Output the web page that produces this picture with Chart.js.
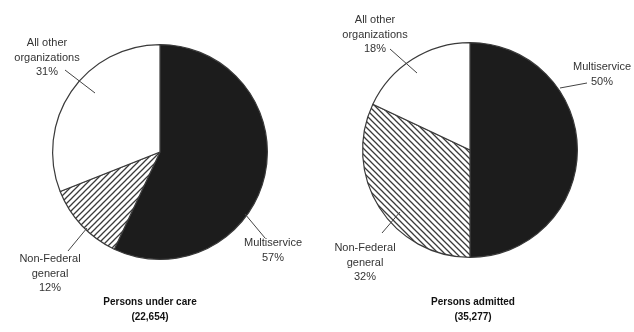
<!DOCTYPE html>
<html>
<head>
<meta charset="utf-8">
<script src="https://cdn.jsdelivr.net/npm/chart.js@4/dist/chart.umd.min.js"></script>
<style>
  html,body{margin:0;padding:0;background:#fff;}
  #wrap{position:relative;width:634px;height:332px;overflow:hidden;}
  canvas{position:absolute;top:0;}
</style>
</head>
<body>
<div id="wrap">
  <canvas id="c1" width="317" height="332" style="left:0"></canvas>
  <canvas id="c2" width="317" height="332" style="left:317px"></canvas>
</div>
<script>
// ---- data ----
const categories = ['Multiservice', 'Non-Federal general', 'All other organizations'];
const labelLines = [['Multiservice'], ['Non-Federal', 'general'], ['All other', 'organizations']];
const underCareValues = [57, 12, 31];
const admittedValues = [50, 32, 18];
const chartTitles = ['Persons under care', 'Persons admitted'];
const chartTotals = ['(22,654)', '(35,277)'];

// ---- styles ----
function hatch(dir) {
  const s = 6;
  const c = document.createElement('canvas');
  c.width = s; c.height = s;
  const g = c.getContext('2d');
  g.fillStyle = '#fff'; g.fillRect(0, 0, s, s);
  g.strokeStyle = '#3a3a3a'; g.lineWidth = 1.3;
  g.beginPath();
  if (dir === '/') {
    g.moveTo(-1, s + 1); g.lineTo(s + 1, -1);
    g.moveTo(-1, 1); g.lineTo(1, -1);
    g.moveTo(s - 1, s + 1); g.lineTo(s + 1, s - 1);
  } else {
    g.moveTo(-1, -1); g.lineTo(s + 1, s + 1);
    g.moveTo(s - 1, -1); g.lineTo(s + 1, 1);
    g.moveTo(-1, s - 1); g.lineTo(1, s + 1);
  }
  g.stroke();
  return g.createPattern(c, 'repeat');
}

// label layout relative to pie center: leader [x1,y1,x2,y2], text center x, first line y, line step
const layouts = [
  [
    {leader: [85, 62, 105, 86], tx: 113, ty: 91},
    {leader: [-73, 76, -92, 99], tx: -110, ty: 107},
    {leader: [-95, -82, -65, -59], tx: -113, ty: -109}
  ],
  [
    {leader: [90, -62, 117, -67], tx: 132, ty: -83},
    {leader: [-70, 62, -88, 83], tx: -105, ty: 98},
    {leader: [-80, -101, -53, -77], tx: -95, ty: -130}
  ]
];
const titleOffsets = [[-10, 150], [3, 152]];

const labelPlugin = {
  id: 'pieLabels',
  afterDraw(chart) {
    const idx = chart.options.plugins.pieLabels.idx;
    const ctx = chart.ctx;
    const arc = chart.getDatasetMeta(0).data[0];
    const cx = arc.x, cy = arc.y;
    const vals = chart.data.datasets[0].data;
    ctx.save();
    ctx.strokeStyle = '#444';
    ctx.lineWidth = 1;
    ctx.fillStyle = '#333';
    ctx.font = '11px "Liberation Sans", Arial, sans-serif';
    ctx.textAlign = 'center';
    ctx.textBaseline = 'middle';
    layouts[idx].forEach((L, i) => {
      ctx.beginPath();
      ctx.moveTo(cx + L.leader[0], cy + L.leader[1]);
      ctx.lineTo(cx + L.leader[2], cy + L.leader[3]);
      ctx.stroke();
      const lines = labelLines[i].concat([vals[i] + '%']);
      lines.forEach((t, k) => ctx.fillText(t, cx + L.tx, cy + L.ty + k * 14.5));
    });
    ctx.fillStyle = '#111';
    ctx.font = 'bold 10px "Liberation Sans", Arial, sans-serif';
    const [ox, oy] = titleOffsets[idx];
    ctx.fillText(chartTitles[idx], cx + ox, cy + oy);
    ctx.fillText(chartTotals[idx], cx + ox, cy + oy + 15);
    ctx.restore();
  }
};

function makePie(id, values, idx, pad, hatchDir) {
  new Chart(document.getElementById(id), {
    type: 'pie',
    data: {
      labels: categories,
      datasets: [{
        data: values,
        backgroundColor: ['#1c1c1c', hatch(hatchDir), '#ffffff'],
        borderColor: '#3a3a3a',
        borderWidth: 1.2
      }]
    },
    options: {
      responsive: false,
      animation: false,
      rotation: 0,
      layout: {padding: pad},
      plugins: {
        legend: {display: false},
        tooltip: {enabled: false},
        title: {display: false},
        pieLabels: {idx: idx}
      }
    },
    plugins: [labelPlugin]
  });
}

makePie('c1', underCareValues, 0, {left: 52, right: 49, top: 44, bottom: 72}, '/');
makePie('c2', admittedValues, 1, {left: 45, right: 56, top: 42, bottom: 74}, '\\');
</script>
</body>
</html>
